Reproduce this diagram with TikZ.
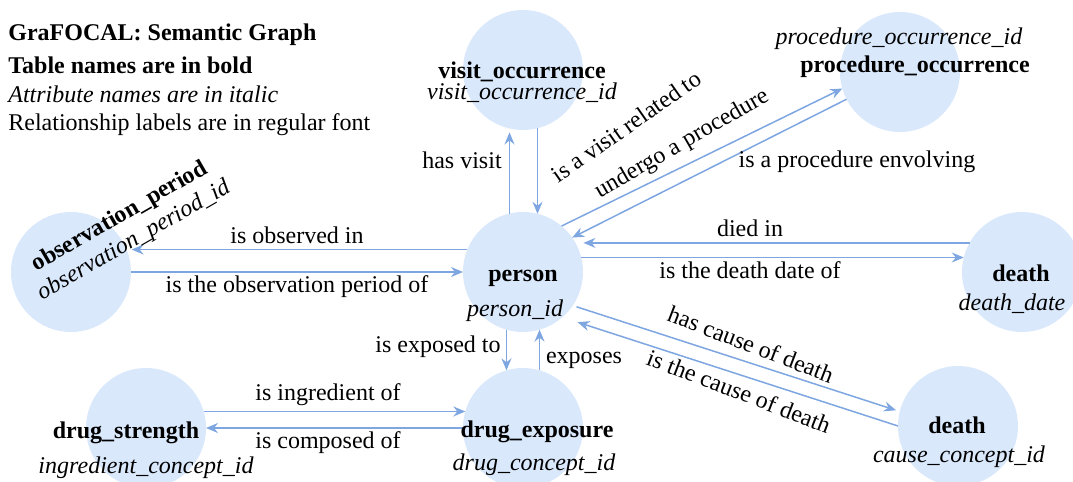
\documentclass[tikz,border=0pt]{standalone}
\usepackage{fontspec}
\setmainfont{Liberation Serif}
\usepackage{tikz}
\usetikzlibrary{arrows.meta,positioning}

\definecolor{nodeblue}{HTML}{DAE8FC}
\definecolor{edgeblue}{HTML}{7EA6E0}

\begin{document}
\begin{tikzpicture}[x=0.5pt,y=-0.5pt]
	\tikzstyle{Table}	= [circle, fill=nodeblue, minimum size=60pt, inner sep=0pt, outer sep=0pt]
	\tikzstyle{TName}	= [font=\fontsize{12}{14}\selectfont\bfseries, anchor=base, inner sep=0pt]
	\tikzstyle{Attr}	= [font=\fontsize{12}{14}\selectfont\itshape, anchor=base, inner sep=0pt]
	\tikzstyle{Rel}		= [font=\fontsize{12}{14}\selectfont, anchor=base, inner sep=0pt]
	\tikzstyle{Legend}	= [font=\fontsize{12}{14}\selectfont, anchor=base west, inner sep=0pt]
	\tikzstyle{Link}	= [edgeblue, line width=0.75pt, -{Stealth[length=6pt,width=5pt,inset=2pt]}]

	\useasboundingbox (0,0) rectangle (1073,482);

	% legend
	\node (title) at (8,40) [Legend] {\bfseries GraFOCAL: Semantic Graph};
	\node (leg1) at (8,74) [Legend] {\bfseries Table names are in bold};
	\node (leg2) at (8,102) [Legend] {\itshape Attribute names are in italic};
	\node (leg3) at (8,130) [Legend] {Relationship labels are in regular font};

	% tables
	\node (obs) at (71,272) [Table] {};
	\node (visit) at (523,70) [Table] {};
	\node (proc) at (900,72) [Table] {};
	\node (person) at (523,272) [Table] {};
	\node (deathA) at (1022,272) [Table] {};
	\node (drugexp) at (523,428) [Table] {};
	\node (drugstr) at (146,428) [Table] {};
	\node (deathB) at (958,426) [Table] {};

	% relationships
	\draw [Link, shorten >=2pt] (person.103) to (visit.257);
	\draw [Link] (visit.284) to (person.76);
	\draw [Link] (person.50) to (proc.196);
	\draw [Link] (proc.207) to (person.35);
	\draw [Link, shorten >=4pt] (deathA.151) to (person.29);
	\draw [Link] (person.14) to (deathA.166);
	\draw [Link, shorten >=2.5pt] (person.158) to (obs.22);
	\draw [Link] (obs.0) to (person.180);
	\draw [Link] (person.254) to (drugexp.106);
	\draw [Link] (drugexp.74) to (person.286);
	\draw [Link, shorten <=2pt, shorten >=2pt] (person.326) to (deathB.166);
	\draw [Link, shorten >=8pt] (deathB.180) to (person.311);
	\draw [Link] (drugstr.16) to (drugexp.164);
	\draw [Link] (drugexp.180) to (drugstr.0);

	% table and attribute names
	\node (obsN) at (120,217) [TName, anchor=center, rotate=30] {observation\_period};
	\node (obsA) at (134,241) [Attr, anchor=center, rotate=30] {observation\_period\_id};
	\node (visitN) at (522,78) [TName] {visit\_occurrence};
	\node (visitA) at (522,99) [Attr] {visit\_occurrence\_id};
	\node (procA) at (899,45) [Attr] {procedure\_occurrence\_id};
	\node (procN) at (915,72) [TName] {procedure\_occurrence};
	\node (personN) at (523,281) [TName] {person};
	\node (personA) at (515,316) [Attr] {person\_id};
	\node (deathAN) at (1021,281) [TName] {death};
	\node (deathAA) at (1012,310) [Attr] {death\_date};
	\node (drugexpN) at (537,437) [TName] {drug\_exposure};
	\node (drugexpA) at (534,470) [Attr] {drug\_concept\_id};
	\node (drugstrN) at (126,438) [TName] {drug\_strength};
	\node (drugstrA) at (146,473) [Attr] {ingredient\_concept\_id};
	\node (deathBN) at (957,433) [TName] {death};
	\node (deathBA) at (959,462) [Attr] {cause\_concept\_id};

	% relationship labels
	\node (lHasVisit) at (462,168) [Rel] {has visit};
	\node (lVisitOf) at (631,133) [Rel, rotate=35] {is a visit related to};
	\node (lUndergo) at (685,149) [Rel, rotate=30] {undergo a procedure};
	\node (lProcOf) at (857,167) [Rel] {is a procedure envolving};
	\node (lDiedIn) at (750,236) [Rel] {died in};
	\node (lDeathOf) at (750,278) [Rel] {is the death date of};
	\node (lObsIn) at (297,243) [Rel] {is observed in};
	\node (lObsOf) at (297,292) [Rel] {is the observation period of};
	\node (lExposedTo) at (438,352) [Rel] {is exposed to};
	\node (lExposes) at (584,363) [Rel] {exposes};
	\node (lHasCause) at (748,352) [Rel, rotate=-21] {has cause of death};
	\node (lCauseOf) at (736,399) [Rel, rotate=-21] {is the cause of death};
	\node (lIngred) at (328,400) [Rel] {is ingredient of};
	\node (lComposed) at (328,448) [Rel] {is composed of};
\end{tikzpicture}
\end{document}
